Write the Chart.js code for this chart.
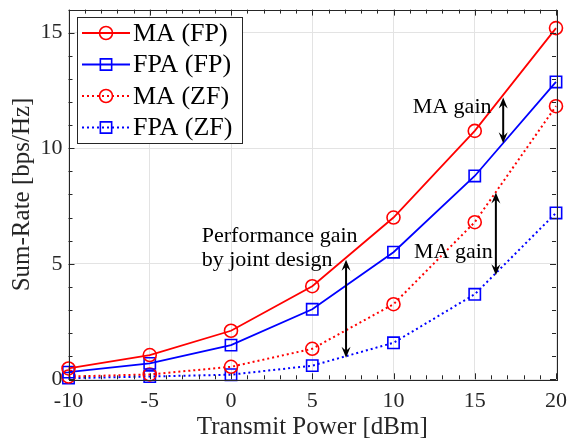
<!DOCTYPE html>
<html>
<head>
<meta charset="utf-8">
<script src="https://cdn.jsdelivr.net/npm/chart.js@4.4.1/dist/chart.umd.min.js"></script>
<style>
  html, body { margin: 0; padding: 0; background: #fff; }
</style>
</head>
<body>
<canvas id="myChart" width="569" height="443"></canvas>
<script>
// Data
const powers = [-10, -5, 0, 5, 10, 15, 20];
const maFP = [0.47, 1.05, 2.1, 4.03, 7.0, 10.75, 15.2];
const fpaFP = [0.31, 0.69, 1.48, 3.03, 5.5, 8.8, 12.87];
const maZF = [0.12, 0.21, 0.54, 1.32, 3.25, 6.8, 11.82];
const fpaZF = [0.05, 0.12, 0.2, 0.59, 1.58, 3.68, 7.2];

const xTicks = [-10, -5, 0, 5, 10, 15, 20];
const yTicks = [0, 5, 10, 15];

// annotation arrows (x, from, to) and texts (left edge, baseline)
const arrowX = [16.75, 16.3, 7.08];
const arrowFrom = [12.2, 8.08, 5.17];
const arrowTo = [10.22, 4.5, 0.93];

const noteText = ["MA gain", "MA gain", "Performance gain", "by joint design"];
const noteX = [11.18, 11.26, -1.8, -1.8];
const noteY = [11.53, 5.26, 5.93, 4.9];

const serif = "'Liberation Serif', 'Times New Roman', serif";
const axisColor = "#262626";

function pts(ys) {
    return powers.map(function (p, i) { return { x: p, y: ys[i] }; });
}

function series(label, ys, color, style, dashed) {
    return {
        label: label,
        data: pts(ys),
        borderColor: color,
        backgroundColor: color,
        borderWidth: dashed ? 2 : 1.8,
        borderDash: dashed ? [2, 3] : [],
        pointStyle: style,
        pointRadius: style === "circle" ? 6.5 : 8,
        pointBorderWidth: 1.6,
        pointBackgroundColor: "rgba(0,0,0,0)",
        pointBorderColor: color,
        tension: 0,
        clip: false,
    };
}

function noPad(s) {
    s.paddingLeft = 0; s.paddingRight = 0; s.paddingTop = 0; s.paddingBottom = 0;
}

// box, inner ticks, arrows and text
const frame = {
    id: "frame",
    afterDatasetsDraw(chart) {
        const ctx = chart.ctx;
        const a = chart.chartArea;
        const x = chart.scales.x;
        const y = chart.scales.y;
        ctx.save();
        ctx.strokeStyle = axisColor;
        ctx.lineWidth = 1;
        ctx.strokeRect(Math.round(a.left) + 0.5, Math.round(a.top) + 0.5,
            Math.round(a.right - a.left), Math.round(a.bottom - a.top));

        ctx.beginPath();
        for (let v = -10; v <= 20; v++) {
            const px = Math.round(x.getPixelForValue(v)) + 0.5;
            const len = v % 5 === 0 ? 6 : 4;
            ctx.moveTo(px, a.bottom); ctx.lineTo(px, a.bottom - len);
            ctx.moveTo(px, a.top); ctx.lineTo(px, a.top + len);
        }
        for (let v = 0; v <= 16; v++) {
            const py = Math.round(y.getPixelForValue(v)) + 0.5;
            const len = v % 5 === 0 ? 6 : 4;
            ctx.moveTo(a.left, py); ctx.lineTo(a.left + len, py);
            ctx.moveTo(a.right, py); ctx.lineTo(a.right - len, py);
        }
        ctx.stroke();

        // arrows
        ctx.strokeStyle = "#000";
        ctx.fillStyle = "#000";
        ctx.lineWidth = 2;
        for (let i = 0; i < arrowX.length; i++) {
            const px = x.getPixelForValue(arrowX[i]);
            const y1 = y.getPixelForValue(arrowFrom[i]);
            const y2 = y.getPixelForValue(arrowTo[i]);
            ctx.beginPath();
            ctx.moveTo(px, y1 + 6); ctx.lineTo(px, y2 - 6);
            ctx.stroke();
            arrowHead(ctx, px, y1, 1);
            arrowHead(ctx, px, y2, -1);
        }

        ctx.font = "22px " + serif;
        ctx.fillStyle = "#000";
        ctx.textAlign = "left";
        ctx.textBaseline = "alphabetic";
        for (let i = 0; i < noteText.length; i++) {
            ctx.fillText(noteText[i], x.getPixelForValue(noteX[i]), y.getPixelForValue(noteY[i]));
        }
        ctx.restore();
    },
    afterDraw(chart) {
        // legend box like matlab
        const ctx = chart.ctx;
        const sets = chart.data.datasets;
        const left = 77, top = 17, w = 165, h = 126;
        ctx.save();
        ctx.fillStyle = "#fff";
        ctx.fillRect(left, top, w, h);
        ctx.strokeStyle = "#262626";
        ctx.lineWidth = 1;
        ctx.strokeRect(left + 0.5, top + 0.5, w, h);
        ctx.font = "26px " + serif;
        ctx.textBaseline = "middle";
        for (let i = 0; i < sets.length; i++) {
            const ds = sets[i];
            const cy = top + 16 + i * 31.5;
            ctx.strokeStyle = ds.borderColor;
            ctx.lineWidth = ds.borderWidth;
            ctx.setLineDash(ds.borderDash);
            ctx.beginPath();
            ctx.moveTo(82, cy); ctx.lineTo(130, cy);
            ctx.stroke();
            ctx.setLineDash([]);
            ctx.lineWidth = ds.pointBorderWidth;
            ctx.fillStyle = "rgba(0,0,0,0)";
            Chart.helpers.drawPoint(ctx, { pointStyle: ds.pointStyle, radius: ds.pointRadius, borderWidth: ds.pointBorderWidth, rotation: 0 }, 106, cy);
            ctx.fillStyle = "#000";
            ctx.fillText(ds.label, 133, cy + 1);
        }
        ctx.restore();
    },
};

function arrowHead(ctx, px, py, dir) {
    // dir 1: pointing up (tip at py), -1: pointing down
    const L = 11, W = 4.5, notch = 7;
    ctx.beginPath();
    ctx.moveTo(px, py);
    ctx.lineTo(px - W, py + dir * L);
    ctx.lineTo(px, py + dir * notch);
    ctx.lineTo(px + W, py + dir * L);
    ctx.closePath();
    ctx.fill();
}

var config = {
    type: "line",
    data: {
        datasets: [
            series("MA (FP)", maFP, "#ff0000", "circle", false),
            series("FPA (FP)", fpaFP, "#0000ff", "rect", false),
            series("MA (ZF)", maZF, "#ff0000", "circle", true),
            series("FPA (ZF)", fpaZF, "#0000ff", "rect", true),
        ],
    },
    options: {
        responsive: false,
        animation: false,
        devicePixelRatio: 1,
        layout: { padding: { top: 8, right: 13, left: 0, bottom: 0 } },
        plugins: { legend: { display: false }, tooltip: { enabled: false } },
        scales: {
            x: {
                type: "linear",
                min: -10,
                max: 20,
                afterFit: function (s) { s.height = 63.7; noPad(s); },
                afterBuildTicks: function (s) { s.ticks = xTicks.map(function (v) { return { value: v }; }); },
                grid: { color: "#e3e3e3", drawTicks: false },
                border: { display: false },
                ticks: { color: axisColor, font: { family: serif, size: 22 }, padding: 9, maxRotation: 0 },
                title: { display: true, text: "Transmit Power [dBm]", color: axisColor, font: { family: serif, size: 25 }, padding: { bottom: 1, top: 0 } },
            },
            y: {
                type: "linear",
                min: 0,
                max: 16,
                afterFit: function (s) { s.width = 68.5; noPad(s); },
                afterBuildTicks: function (s) { s.ticks = yTicks.map(function (v) { return { value: v }; }); },
                grid: { color: "#e3e3e3", drawTicks: false },
                border: { display: false },
                ticks: { color: axisColor, font: { family: serif, size: 22 }, padding: 6 },
                title: { display: true, text: "Sum-Rate [bps/Hz]", color: axisColor, font: { family: serif, size: 25 }, padding: { top: 7, bottom: 0 } },
            },
        },
    },
    plugins: [frame],
};

var myChart = new Chart(document.getElementById("myChart"), config);
</script>
</body>
</html>
